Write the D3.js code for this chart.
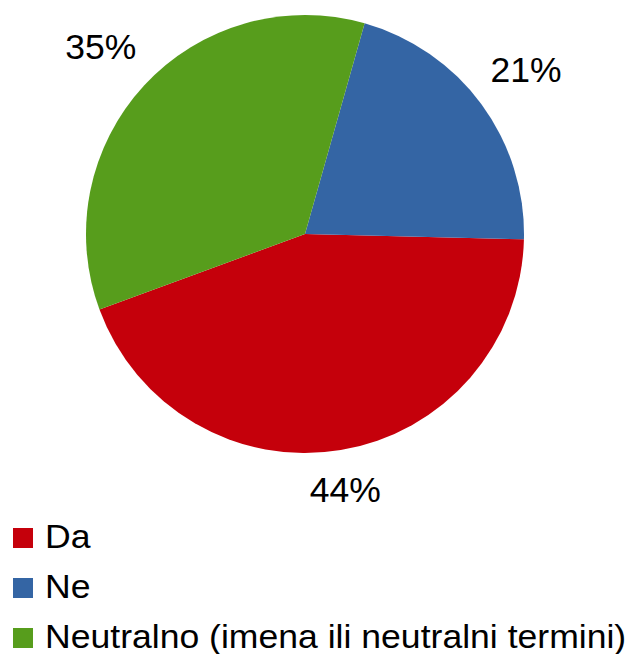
<!DOCTYPE html>
<html>
<head>
<meta charset="utf-8">
<script src="https://cdn.jsdelivr.net/npm/d3@7"></script>
<style>
  body { margin: 0; background: #fff; }
  svg { display: block; font-family: "Liberation Sans", Arial, sans-serif; }
</style>
</head>
<body>
<div class="pie-chart-container"></div>
<script>
// Data.
const categories = ['Da', 'Ne', 'Neutralno (imena ili neutralni termini)'];
const values = [44, 21, 35];
const labels = ['44%', '21%', '35%'];
const colors = ['#c5000b', '#3465a4', '#579d1c'];

// Dimensions.
const width = 631;
const height = 654;
const cx = 305;
const cy = 234;
const radius = 219;

const svg = d3
  .select('.pie-chart-container')
  .append('svg')
  .attr('width', width)
  .attr('height', height);

// Slices go counter-clockwise, first one starts lower left.
const start = 249.8 * Math.PI / 180;
const pieGen = d3
  .pie()
  .sort(null)
  .value(d => d)
  .startAngle(start)
  .endAngle(start - 2 * Math.PI);

const arcs = pieGen(values);

const arcGen = d3.arc().innerRadius(0).outerRadius(radius);

const chartGroup = svg
  .append('g')
  .attr('transform', `translate(${cx}, ${cy})`);

chartGroup
  .selectAll('.slice')
  .data(arcs)
  .enter()
  .append('path')
  .attr('class', 'slice')
  .attr('d', arcGen)
  .style('fill', (d, i) => colors[i]);

// Percent labels, placed just outside the rim.
const gap = 22;
chartGroup
  .selectAll('.pct-label')
  .data(arcs)
  .enter()
  .append('text')
  .attr('class', 'pct-label')
  .text((d, i) => labels[i])
  .style('font-size', '35.5px')
  .style('fill', '#000')
  .attr('text-anchor', 'middle')
  .each(function(d) {
    const bb = this.getBBox();
    const a = (d.startAngle + d.endAngle) / 2;
    const s = Math.sin(a), c = Math.cos(a);
    const ext = Math.abs(s) * bb.width / 2 + Math.abs(c) * 25 / 2;
    const dist = radius + gap + ext;
    d3.select(this)
      .attr('x', s * dist - 2)
      .attr('y', -c * dist + 12.5);
  });

// Legend.
const legend = svg
  .append('g')
  .attr('class', 'legend')
  .attr('transform', 'translate(13, 528)');

const rows = legend
  .selectAll('.legend-row')
  .data(categories)
  .enter()
  .append('g')
  .attr('class', 'legend-row')
  .attr('transform', (d, i) => `translate(0, ${i * 50})`);

rows
  .append('rect')
  .attr('width', 20)
  .attr('height', 20)
  .style('fill', (d, i) => colors[i]);

// Legend text is drawn a little wider than normal.
rows
  .append('text')
  .attr('transform', 'translate(32, 20) scale(1.062, 1)')
  .text(d => d)
  .style('font-size', '33.5px')
  .style('fill', '#000');
</script>
</body>
</html>
